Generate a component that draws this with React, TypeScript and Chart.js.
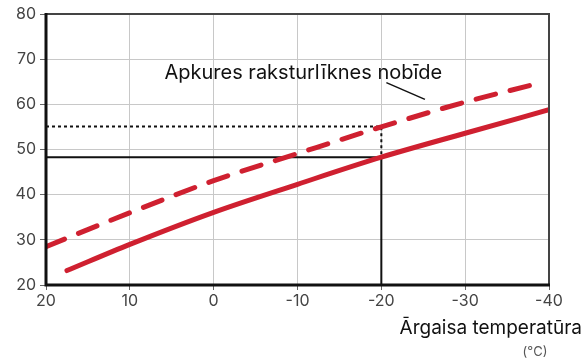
import React, { useEffect, useRef } from 'react';
import { Chart, registerables } from 'chart.js';

Chart.register(...registerables);

// ---- data ----
const tempsSolid = [17.5, 10, 0, -10, -20, -30, -40];
const valuesSolid = [23.2, 29.0, 36.1, 42.3, 48.3, 53.6, 58.8];
const tempsDashed = [20, 10, 0, -10, -20, -30, -38];
const valuesDashed = [28.5, 36.0, 43.1, 49.1, 55.0, 60.5, 64.3];
const xTicks = [20, 10, 0, -10, -20, -30, -40];
const yTicks = [20, 30, 40, 50, 60, 70, 80];
const refTemp = -20;
const refStartTemp = 20;
const refSolid = 48.3;
const refDashed = 55.1;
const annotationText = 'Apkures raksturlīknes nobīde';
const annotationAt = { x: -10.7, y: 67 };
const leaderFrom = { x: -20.6, y: 64.8 };
const leaderTo = { x: -25.2, y: 61.1 };
const xTitle = 'Ārgaisa temperatūra';
const xUnit = '(°C)';

const RED = '#cf2030';
const FONT = 'Inter, "Noto Sans", sans-serif';

const overlayPlugin = {
  id: 'overlay',
  afterDatasetsDraw(chart: any) {
    const { ctx, chartArea: a, scales } = chart;
    const xs = scales.x;
    const ys = scales.y;
    ctx.save();
    // frame
    ctx.lineCap = 'butt';
    ctx.strokeStyle = '#444';
    ctx.lineWidth = 2;
    ctx.beginPath();
    ctx.moveTo(a.left, a.top);
    ctx.lineTo(a.right, a.top);
    ctx.lineTo(a.right, a.bottom);
    ctx.stroke();
    ctx.strokeStyle = '#111';
    ctx.lineWidth = 3;
    ctx.beginPath();
    ctx.moveTo(a.left, a.top - 1);
    ctx.lineTo(a.left, a.bottom);
    ctx.lineTo(a.right + 1, a.bottom);
    ctx.stroke();
    // annotation
    ctx.fillStyle = '#111';
    ctx.font = `20px ${FONT}`;
    ctx.textAlign = 'center';
    ctx.textBaseline = 'middle';
    ctx.fillText(annotationText, xs.getPixelForValue(annotationAt.x), ys.getPixelForValue(annotationAt.y));
    ctx.strokeStyle = '#111';
    ctx.lineWidth = 1.5;
    ctx.beginPath();
    ctx.moveTo(xs.getPixelForValue(leaderFrom.x), ys.getPixelForValue(leaderFrom.y));
    ctx.lineTo(xs.getPixelForValue(leaderTo.x), ys.getPixelForValue(leaderTo.y));
    ctx.stroke();
    ctx.restore();
  },
  afterDraw(chart: any) {
    const { ctx, width } = chart;
    ctx.save();
    ctx.fillStyle = '#111';
    ctx.font = `19px ${FONT}`;
    ctx.textAlign = 'right';
    ctx.textBaseline = 'middle';
    ctx.fillText(xTitle, width - 2, 328);
    ctx.fillStyle = '#555';
    ctx.font = `13px ${FONT}`;
    ctx.textAlign = 'center';
    ctx.fillText(xUnit, 535, 352);
    ctx.restore();
  },
};

export default function App() {
  const ref = useRef<HTMLCanvasElement | null>(null);
  useEffect(() => {
    if (!ref.current) return;
    const chart = new Chart(ref.current, {
      type: 'line',
      data: {
        datasets: [
          {
            data: tempsSolid.map((x, i) => ({ x, y: valuesSolid[i] })),
            borderColor: RED,
            borderWidth: 5,
            borderCapStyle: 'round',
            pointRadius: 0,
            cubicInterpolationMode: 'monotone',
            fill: false,
          },
          {
            data: tempsDashed.map((x, i) => ({ x, y: valuesDashed[i] })),
            borderColor: RED,
            borderWidth: 5,
            borderCapStyle: 'round',
            borderDash: [20, 15],
            pointRadius: 0,
            cubicInterpolationMode: 'monotone',
            fill: false,
          },
          {
            data: [
              { x: refStartTemp, y: refSolid },
              { x: refTemp, y: refSolid },
              { x: refTemp, y: yTicks[0] },
            ],
            borderColor: '#111',
            borderWidth: 2,
            pointRadius: 0,
            tension: 0,
            fill: false,
          },
          {
            data: [
              { x: refStartTemp, y: refDashed },
              { x: refTemp, y: refDashed },
              { x: refTemp, y: refSolid },
            ],
            borderColor: '#111',
            borderWidth: 2,
            borderDash: [3, 3],
            pointRadius: 0,
            tension: 0,
            fill: false,
          },
        ],
      } as any,
      options: {
        animation: false,
        responsive: false,
        maintainAspectRatio: false,
        layout: { padding: { top: 14, right: 35, left: 0, bottom: 0 } },
        plugins: { legend: { display: false }, tooltip: { enabled: false } },
        scales: {
          x: {
            type: 'linear',
            reverse: true,
            min: xTicks[xTicks.length - 1],
            max: xTicks[0],
            afterBuildTicks: (s: any) => {
              s.ticks = xTicks.map((v) => ({ value: v }));
            },
            afterFit: (s: any) => {
              s.height = 75;
            },
            ticks: {
              color: '#444',
              font: { family: FONT, size: 16 },
              padding: 2,
              callback: (v: any) => String(v),
            },
            grid: { color: '#c8c8c8', lineWidth: 1, tickLength: 5, tickColor: '#666' },
            border: { display: false },
          },
          y: {
            type: 'linear',
            min: yTicks[0],
            max: yTicks[yTicks.length - 1],
            afterBuildTicks: (s: any) => {
              s.ticks = yTicks.map((v) => ({ value: v }));
            },
            afterFit: (s: any) => {
              s.width = 46;
            },
            ticks: {
              color: '#444',
              font: { family: FONT, size: 16 },
              padding: 4,
              callback: (v: any) => String(v),
            },
            grid: { color: '#c8c8c8', lineWidth: 1, tickLength: 6, tickColor: '#666' },
            border: { display: false },
          },
        },
      } as any,
      plugins: [overlayPlugin],
    });
    return () => chart.destroy();
  }, []);
  return (
    <div style={{ position: 'fixed', left: 0, top: 0, width: 584, height: 360, background: '#fff' }}>
      <canvas ref={ref} width={584} height={360} style={{ width: 584, height: 360 }} />
    </div>
  );
}
